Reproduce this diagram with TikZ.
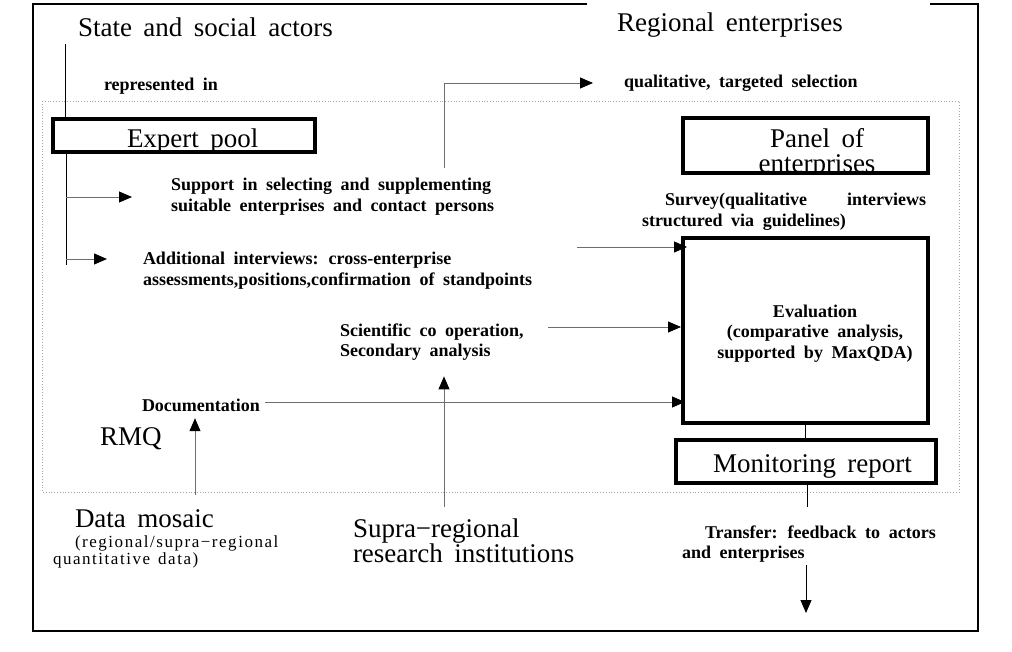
\documentclass[tikz,border=0pt]{standalone}
\usepackage{fontspec}
\setmainfont[WordSpace=1.7]{Liberation Serif}
\newfontfamily\boldFont[WordSpace=1.9]{Liberation Serif Bold}
\newfontfamily\noteFont[LetterSpace=9,WordSpace=1.4]{Liberation Serif}
\usepackage{tikz}
\usetikzlibrary{arrows.meta}
\tikzset{
  bigLabel/.style={text=drawColor,font=\fontsize{27}{25}\selectfont,inner sep=0pt,outer sep=0pt},
  boldLabel/.style={text=drawColor,font=\fontsize{18}{20.5}\boldFont,inner sep=0pt,outer sep=0pt},
  noteLabel/.style={text=drawColor,font=\fontsize{17}{17.5}\noteFont,inner sep=0pt,outer sep=0pt},
  thickBox/.style={draw=drawColor,line width=4pt,inner sep=0pt},
  plainLine/.style={draw=drawColor,line width=1pt},
  grayArrow/.style={draw=lineColor,line width=0.9pt,-{Triangle[length=13pt,width=11pt,color=drawColor]}},
  blackArrow/.style={draw=drawColor,line width=0.9pt,-{Triangle[length=13pt,width=11pt,color=drawColor]}}
}

\begin{document}
\begin{tikzpicture}[x=1pt,y=-1pt]
\definecolor{drawColor}{RGB}{0,0,0}
\definecolor{lineColor}{RGB}{110,110,110}
\definecolor{frameColor}{RGB}{165,165,165}
\definecolor{fillColor}{RGB}{255,255,255}
\path[use as bounding box,fill=fillColor] (0,0) rectangle (1012,652);

\path[draw=drawColor,line width=1.3pt] (587,4) -| (33,631) -| (978,4) -- (930,4);
\path[draw=frameColor,line width=0.8pt,dotted] (42,101) rectangle (959,492);

\node[bigLabel,anchor=base west] (state) at (78,37) {State and social actors};
\node[bigLabel,anchor=base west] (regional) at (617,32) {Regional enterprises};
\node[boldLabel,anchor=base west] (represented) at (104,91) {represented in};
\node[boldLabel,anchor=base west] (qualitative) at (624,88) {qualitative, targeted selection};

\node[thickBox,minimum width=262,minimum height=33] (expert) at (184,135.5) {};
\node[bigLabel,anchor=base west] (expertText) at (127,148) {Expert pool};

\begin{scope}
\path[clip] (685,120) rectangle (926,171);
\node[bigLabel,anchor=base,text width=230,align=flush center] (panelText) at (817,148) {Panel of\\enterprises};
\end{scope}
\node[thickBox,minimum width=245,minimum height=55] (panel) at (805.5,145.5) {};

\node[boldLabel,anchor=base west,text width=284,align=flush left] (survey) at (642,206)
  {\hspace*{23pt}Survey(qualitative\hfill interviews\\structured via guidelines)};

\node[thickBox,minimum width=245,minimum height=185] (eval) at (805.5,330.5) {};
\node[boldLabel,anchor=base,text width=220,align=flush center] (evalText) at (815,317)
  {Evaluation\\(comparative analysis,\\supported by MaxQDA)};

\node[thickBox,minimum width=260,minimum height=43] (monitoring) at (806,461.5) {};
\node[bigLabel,anchor=base west] (monitoringText) at (713,472) {Monitoring report};

\node[boldLabel,anchor=base west,text width=285,align=flush left] (transfer) at (682,538)
  {\hspace*{23pt}Transfer: feedback to actors\\and enterprises};

\node[boldLabel,anchor=base west,text width=340,align=flush left] (support) at (171,191)
  {Support in selecting and supplementing\\suitable enterprises and contact persons};
\node[boldLabel,anchor=base west,text width=420,align=flush left] (additional) at (143,265)
  {Additional interviews: cross-enterprise\\assessments,positions,confirmation of standpoints};
\node[boldLabel,anchor=base west,text width=220,align=flush left] (scientific) at (340,336)
  {Scientific co operation,\\Secondary analysis};
\node[boldLabel,anchor=base west] (documentation) at (142,411) {Documentation};
\node[bigLabel,anchor=base west] (rmq) at (100,445) {RMQ};

\node[bigLabel,anchor=base west] (data) at (75,527) {Data mosaic};
\node[noteLabel,anchor=base west,text width=260,align=flush left] (dataNote) at (53,547)
  {\hspace*{22pt}(regional/supra−regional\\quantitative data)};
\node[bigLabel,anchor=base west,text width=250,align=flush left] (supra) at (353,537)
  {Supra−regional\\research institutions};

\coordinate (stateFoot) at (65,44);
\coordinate (trunkFoot) at (66,265);
\coordinate (supportTip) at (132,197);
\coordinate (additionalTip) at (107,259);
\coordinate (selectFoot) at (444,168);
\coordinate (selectTip) at (593,83);
\coordinate (additionalOut) at (577,247);
\coordinate (scientificOut) at (548,327);
\coordinate (documentationOut) at (265,402);
\coordinate (dataTop) at (195,495);
\coordinate (supraTop) at (444,507);
\coordinate (transferTop) at (807,507);
\coordinate (transferTip) at (806,613);

\path[plainLine] (stateFoot) -- (stateFoot |- expert.north);
\path[plainLine] (trunkFoot |- expert.south) -- (trunkFoot);
\draw[grayArrow] (supportTip -| trunkFoot) -- (supportTip);
\draw[grayArrow] (additionalTip -| trunkFoot) -- (additionalTip);
\draw[grayArrow] (selectFoot) |- (selectTip);
\draw[grayArrow,shorten >=-6pt] (additionalOut) -- (additionalOut -| eval.west);
\draw[grayArrow] (scientificOut) -- (scientificOut -| eval.west);
\draw[grayArrow,shorten >=-4pt] (documentationOut) -- (documentationOut -| eval.west);
\draw[grayArrow,shorten >=7pt] (dataTop) -- (dataTop |- documentation.south);
\draw[grayArrow,shorten >=16pt] (supraTop) -- (supraTop |- scientific.south);
\path[plainLine] (eval.south) -- (eval.south |- monitoring.north);
\path[plainLine] (monitoring.south -| transferTop) -- (transferTop);
\draw[blackArrow,shorten <=3pt] (transferTip |- transfer.south) -- (transferTip);
\end{tikzpicture}
\end{document}
